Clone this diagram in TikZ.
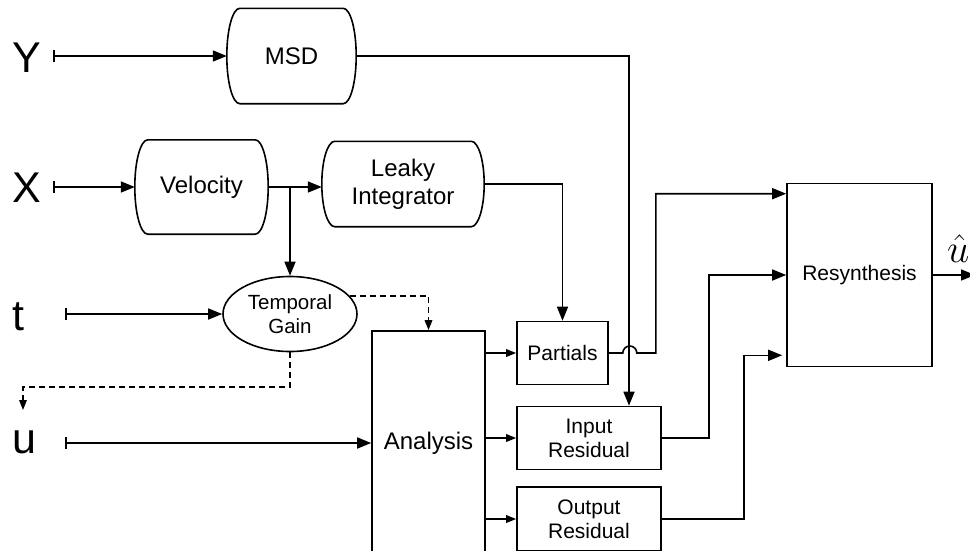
\RequirePackage{fix-cm}
\documentclass[tikz,border=0pt]{standalone}
\usepackage{fontspec}
\setmainfont{Liberation Sans}
\usetikzlibrary{arrows.meta,shapes.geometric,calc}

\newcommand\boxfont{\fontsize{24}{28}\selectfont}
\newcommand\subfont{\fontsize{21}{24}\selectfont}
\newcommand\tgfont{\fontsize{20.5}{24}\selectfont}
\newcommand\lblfont{\fontsize{43}{48}\selectfont}

% box with half-elliptic left and right sides, drawn around a named node
\newcommand\sidebox[2]{%
  \draw[base] let \p1=(#1.north west), \p2=(#1.south east) in
    ({\x1+#2},\y1) -- ({\x2-#2},\y1)
    .. controls ({\x2-0.4477*#2},\y1) and (\x2,{\y1-0.4477*(\y1-\y2)/2}) .. (\x2,{(\y1+\y2)/2})
    .. controls (\x2,{\y2+0.4477*(\y1-\y2)/2}) and ({\x2-0.4477*#2},\y2) .. ({\x2-#2},\y2)
    -- ({\x1+#2},\y2)
    .. controls ({\x1+0.4477*#2},\y2) and (\x1,{\y2+0.4477*(\y1-\y2)/2}) .. (\x1,{(\y1+\y2)/2})
    .. controls (\x1,{\y1-0.4477*(\y1-\y2)/2}) and ({\x1+0.4477*#2},\y1) .. ({\x1+#2},\y1) -- cycle;}

\tikzset{
  base/.style={line width=1.6pt, line join=miter},
  bigtip/.tip={Triangle[length=14pt,width=11pt]},
  smalltip/.tip={Triangle[length=10pt,width=7.5pt]},
  big/.style={base,-bigtip},
  small/.style={base,-smalltip},
  feed/.style={base,{Bar[width=12pt]}-bigtip},
  dasharr/.style={base,dash pattern=on 6pt off 4pt,-smalltip},
  soft/.style={inner sep=0pt, align=center, font=\boxfont},
  blk/.style={draw, base, inner sep=0pt, align=center},
  lbl/.style={inner sep=0pt, anchor=base, font=\lblfont},
}

\begin{document}
\begin{tikzpicture}[x=1pt,y=-1pt]
\fill[white] (0,0) rectangle (970,550);
\useasboundingbox (0,0) rectangle (970,550);
\clip (0,0) rectangle (970,550);

% input labels
\node[lbl] (ylbl) at (27,72) {Y};
\node[lbl] (xlbl) at (27,202) {X};
\node[lbl] (tlbl) at (18,330) {t};
\node[lbl] (ulbl) at (24,453) {u};

% input stubs
\coordinate (yin) at (53,56);
\coordinate (xin) at (53,187);
\coordinate (tin) at (65,314);
\coordinate (uin) at (65,443);

% processing blocks
\node[soft, minimum width=129pt, minimum height=95pt] (msd) at (291.5,56) {MSD};
\sidebox{msd}{13}
\node[soft, minimum width=133pt, minimum height=94pt] (vel) at (201.5,187) {Velocity};
\sidebox{vel}{13}
\node[soft, minimum width=162pt, minimum height=85pt] (leaky) at (403,184) {Leaky\\Integrator};
\sidebox{leaky}{13}

\node[blk, ellipse, minimum width=134pt, minimum height=75pt, font=\tgfont] (tg) at (290,314) {Temporal\\Gain};

\node[blk, minimum width=113pt, minimum height=224pt, font=\boxfont] (ana) at (428.5,443) {Analysis};
\node[blk, minimum width=91pt, minimum height=63pt, font=\subfont] (part) at (562.5,353) {Partials};
\node[blk, minimum width=144pt, minimum height=63pt, font=\subfont] (inres) at (589,438) {Input\\Residual};
\node[blk, minimum width=144pt, minimum height=64pt, font=\subfont] (outres) at (589,519) {Output\\Residual};
\node[blk, minimum width=145pt, minimum height=183pt, font=\subfont] (res) at (859.5,275) {Resynthesis};

\coordinate (outend) at (975,275);
\node[inner sep=0pt, anchor=base west, font=\fontsize{40}{44}\selectfont] (uhat) at (947,262) {$\hat{u}$};

% signal inputs
\draw[feed] (yin) -- (msd.west);
\draw[feed] (xin) -- (vel.west);
\draw[feed] (tin) -- (tg.west);
\draw[feed] (uin) -- (ana.west);

% velocity path
\draw[big] (vel.east) -- (vel.east -| leaky.west);
\draw[big] (vel.east -| tg.north) -- (tg.north);
\draw[big] (leaky.east) -| (part.north);
\draw[big] (msd.east) -| ($(inres.north)+(40,0)$);

% temporal gain control (dashed)
\coordinate (uturn) at (23,387);
\coordinate (uend) at (23,410);
\draw[dasharr] (tg.17) -| (ana.north);
\draw[dasharr] (tg.south) -- (tg.south |- uturn) -- (uturn) -- (uend);

% analysis outputs
\draw[small] (ana.east |- part.west) -- (part.west);
\draw[small] (ana.east |- inres.west) -- (inres.west);
\draw[small] (ana.east |- outres.west) -- (outres.west);

% into resynthesis
\draw[big] (part.east) -- ++(14,0) arc[start angle=180,end angle=360,radius=7]
  -- ++(19,0) |- ($(res.north west)+(0,11)$);
\draw[big] (inres.east) -- ++(47,0) |- (res.west);
\draw[big] (outres.east) -- ++(82,0) |- ($(res.south west)+(-4,-12)$);
\draw[big] (res.east) -- (outend);
\end{tikzpicture}
\end{document}
